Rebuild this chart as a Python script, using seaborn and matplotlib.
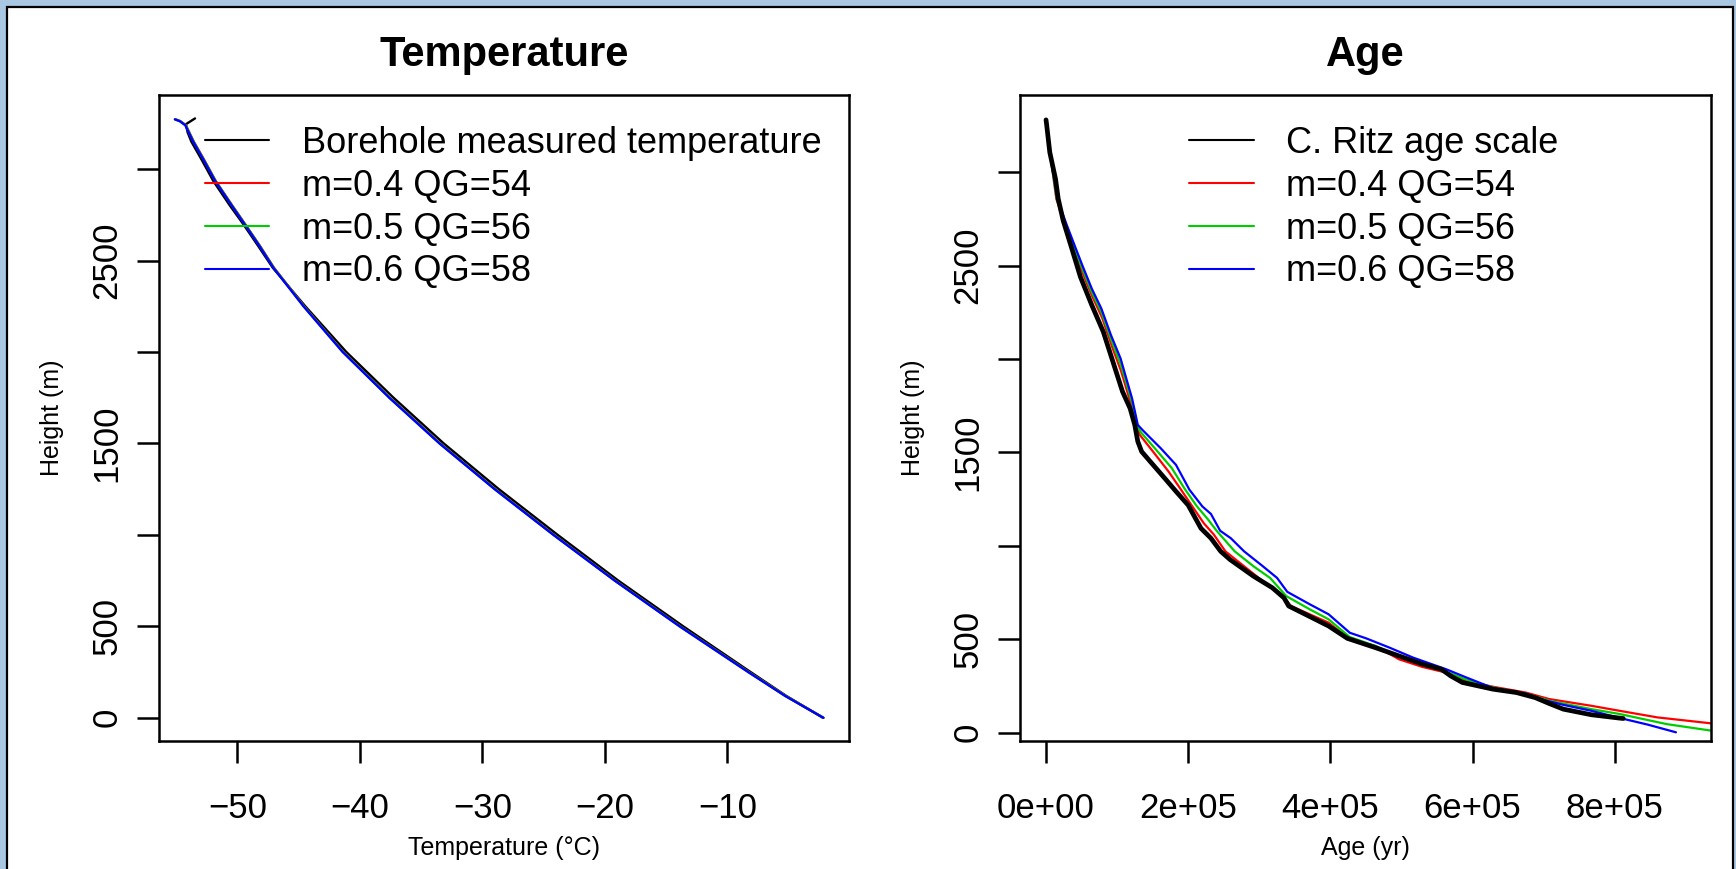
import matplotlib
matplotlib.use("Agg")
import matplotlib.pyplot as plt
from matplotlib.patches import Rectangle
import seaborn as sns
import pandas as pd

# ---------------- data ----------------
# Left panel: temperature profiles (temperature in degC, height in m)
temp_black_h = [3277, 3245, 3200, 3150, 3050, 2934, 2800, 2698, 2580, 2460, 2250, 2000, 1750, 1500, 1250, 1000, 750, 500, 250, 120, 0]
temp_black_T = [-53.45, -54.2, -54.05, -53.75, -52.9, -51.95, -50.6, -49.5, -48.3, -47.1, -44.45, -41.1, -37.25, -33.15,
                -28.65, -23.85, -18.9, -13.6, -8.1, -5.2, -2.2]

temp_model_h = [3272, 3262, 3240, 3150, 3050, 2934, 2800, 2698, 2580, 2460, 2250, 2000, 1750, 1500, 1250, 1000, 750, 500, 250, 120, 0]
temp_red_T   = [-55.05, -54.65, -54.2, -53.55, -52.7, -51.75, -50.4, -49.35, -48.15, -47.0, -44.55, -41.35, -37.55, -33.45,
                -28.95, -24.15, -19.15, -13.85, -8.25, -5.25, -2.16]
temp_green_T = [-55.07, -54.67, -54.22, -53.57, -52.72, -51.77, -50.42, -49.37, -48.17, -47.02, -44.57, -41.37, -37.57, -33.47,
                -28.97, -24.17, -19.17, -13.87, -8.27, -5.27, -2.16]
temp_blue_T  = [-55.1, -54.7, -54.25, -53.6, -52.75, -51.8, -50.45, -49.4, -48.2, -47.05, -44.6, -41.4, -37.6, -33.5,
                -29.0, -24.2, -19.2, -13.9, -8.3, -5.3, -2.16]

# Right panel: age profiles (age in yr, height in m)
ritz_age = [0, 1000, 5300, 13400, 17200, 24100, 34900, 48400, 64400, 80600, 94100, 107600, 118300, 124800,
            129100, 134500, 150600, 166800, 182800, 200000, 218000, 232000, 245700, 258800, 291800, 318300,
            334700, 341400, 364600, 397500, 423900, 463600, 496500, 529500, 556000, 569200, 585600, 628700,
            661600, 688000, 707900, 727700, 767200, 806900, 812000]
ritz_h = [3280, 3250, 3106, 2963, 2857, 2741, 2608, 2439, 2288, 2145, 1985, 1825, 1735, 1647, 1558, 1504,
          1433, 1362, 1291, 1217, 1093, 1040, 970, 926, 837, 775, 721, 677, 633, 570, 504, 454, 410, 366,
          339, 303, 268, 232, 214, 187, 155, 125, 95, 77, 75]

red_age = [0, 1000, 5500, 14500, 27000, 37500, 49500, 64400, 79000, 92500, 106000, 117000, 122500, 129000,
           131800, 150500, 172200, 188300, 205000, 222000, 236000, 252300, 278600, 305000, 331500, 344700,
           397500, 427300, 463600, 496500, 529500, 562600, 589000, 628700, 674800, 707900, 767200, 793600,
           859700, 935600, 970000]
red_h = [3270, 3250, 3106, 2857, 2714, 2608, 2480, 2340, 2220, 2070, 1930, 1790, 1720, 1620, 1594, 1504,
         1398, 1309, 1215, 1120, 1060, 970, 890, 810, 739, 677, 588, 499, 463, 392, 351, 321, 277, 245, 214,
         179, 143, 125, 81, 49, 30]

green_age = [0, 1000, 5600, 15000, 28000, 39000, 50500, 64400, 78500, 92000, 105500, 116500, 122000, 129000,
             133500, 155000, 177000, 195000, 212000, 228000, 240000, 265400, 291800, 315000, 338100, 371200,
             397500, 427300, 463600, 496500, 529500, 569200, 589000, 628700, 674800, 707900, 767200, 806900,
             873000, 935600, 960000]
green_h = [3270, 3250, 3106, 2857, 2714, 2608, 2490, 2358, 2245, 2100, 1965, 1825, 1755, 1635, 1607, 1513,
           1415, 1305, 1212, 1140, 1080, 970, 890, 828, 730, 659, 606, 511, 463, 410, 366, 316, 286, 241, 209,
           170, 125, 99, 45, 10, 2]

blue_age = [0, 1000, 5800, 15700, 29500, 40200, 51100, 64400, 77900, 91400, 104900, 115600, 121000, 129100,
            135600, 161300, 182800, 201700, 220000, 232000, 245000, 260000, 278600, 305000, 324900, 339400,
            371200, 397500, 427300, 450400, 483400, 516300, 562600, 589000, 628700, 674800, 701300, 727700,
            767200, 813500, 846600, 886100]
blue_h = [3270, 3250, 3106, 2857, 2714, 2608, 2501, 2376, 2269, 2127, 2002, 1860, 1789, 1647, 1620, 1522,
          1433, 1300, 1210, 1170, 1080, 1040, 970, 890, 828, 753, 686, 633, 534, 504, 454, 401, 339, 298,
          238, 209, 173, 148, 116, 72, 42, 1]

legend_left = ["Borehole measured temperature", "m=0.4 QG=54", "m=0.5 QG=56", "m=0.6 QG=58"]
legend_right = ["C. Ritz age scale", "m=0.4 QG=54", "m=0.5 QG=56", "m=0.6 QG=58"]

temp_ticks = [-50, -40, -30, -20, -10]
temp_ticklabels = ["\u221250", "\u221240", "\u221230", "\u221220", "\u221210"]
age_ticks = [0, 200000, 400000, 600000, 800000]
age_ticklabels = ["0e+00", "2e+05", "4e+05", "6e+05", "8e+05"]
h_ticks = [0, 500, 1000, 1500, 2000, 2500, 3000]
h_ticklabels = ["0", "500", "", "1500", "", "2500", ""]

# ---------------- style ----------------
sns.set_theme(style="ticks")
plt.rcParams["font.family"] = ["Liberation Sans", "DejaVu Sans"]
plt.rcParams.update({"text.color": "black", "axes.labelcolor": "black",
                     "xtick.color": "black", "ytick.color": "black"})

W, H = 1736, 869
fig = plt.figure(figsize=(W / 100, H / 100), dpi=100)
fig.patch.set_facecolor("#a9c7e3")
fig.patches.append(Rectangle((7 / W, -0.05), (1733 - 7) / W, 1.05 - 7 / H,
                             transform=fig.transFigure, facecolor="white",
                             edgecolor="black", linewidth=1.6, zorder=-10))

ax1 = fig.add_axes([159 / W, 1 - 741 / H, (849 - 159) / W, (741 - 95) / H])
ax2 = fig.add_axes([1020 / W, 1 - 741 / H, (1711 - 1020) / W, (741 - 95) / H])

RED, GREEN, BLUE = "#ff0000", "#00cd00", "#0000ff"
lw = 1.7

# Left panel
sns.lineplot(x=temp_black_T, y=temp_black_h, sort=False, estimator=None, color="black", lw=lw, ax=ax1, label=legend_left[0])
sns.lineplot(x=temp_red_T, y=temp_model_h, sort=False, estimator=None, color=RED, lw=lw, ax=ax1, label=legend_left[1])
sns.lineplot(x=temp_green_T, y=temp_model_h, sort=False, estimator=None, color=GREEN, lw=lw, ax=ax1, label=legend_left[2])
sns.lineplot(x=temp_blue_T, y=temp_model_h, sort=False, estimator=None, color=BLUE, lw=lw, ax=ax1, label=legend_left[3])

# Right panel
sns.lineplot(x=ritz_age, y=ritz_h, sort=False, estimator=None, color="black", lw=3.4, ax=ax2, label=legend_right[0], zorder=5)
sns.lineplot(x=red_age, y=red_h, sort=False, estimator=None, color=RED, lw=1.6, ax=ax2, label=legend_right[1])
sns.lineplot(x=green_age, y=green_h, sort=False, estimator=None, color=GREEN, lw=1.6, ax=ax2, label=legend_right[2])
sns.lineplot(x=blue_age, y=blue_h, sort=False, estimator=None, color=BLUE, lw=1.6, ax=ax2, label=legend_right[3])

ax1.set_xlim(-56.39, -0.07)
ax1.set_ylim(-127, 3405)
ax2.set_xlim(-36600, 935400)
ax2.set_ylim(-45.5, 3413)

ax1.set_xticks(temp_ticks, temp_ticklabels)
ax2.set_xticks(age_ticks, age_ticklabels)
for ax in (ax1, ax2):
    ax.set_yticks(h_ticks, h_ticklabels)
    for s in ax.spines.values():
        s.set_visible(True)
        s.set_color("black")
        s.set_linewidth(1.8)
    ax.tick_params(axis="both", which="major", direction="out", length=15.8, width=1.8, color="black",
                   labelsize=25, labelcolor="black", bottom=True, left=True, top=False, right=False)
    ax.tick_params(axis="x", pad=21)
    ax.tick_params(axis="y", pad=10)
    for lbl in ax.get_yticklabels():
        lbl.set_rotation(90)
        lbl.set_va("center")
    ax.set_ylabel("Height (m)", fontsize=18, labelpad=18.8, color="black")
    ax.set_facecolor("white")

ax1.set_xlabel("Temperature (\u00b0C)", fontsize=18, labelpad=8, color="black")
ax2.set_xlabel("Age (yr)", fontsize=18, labelpad=8, color="black")
ax1.set_title("Temperature", fontsize=30, fontweight="bold", pad=21, color="black")
ax2.set_title("Age", fontsize=30, fontweight="bold", pad=21, color="black")

for ax, x0 in ((ax1, 0.066), (ax2, 0.245)):
    leg = ax.legend(loc="upper left", bbox_to_anchor=(x0, 0.952), frameon=False, fontsize=26,
                    handlelength=1.79, handletextpad=0.9, labelspacing=0.215,
                    borderpad=0, borderaxespad=0)
    for line in leg.get_lines():
        line.set_linewidth(1.5)

fig.savefig("out.png", dpi=100, facecolor=fig.get_facecolor())
